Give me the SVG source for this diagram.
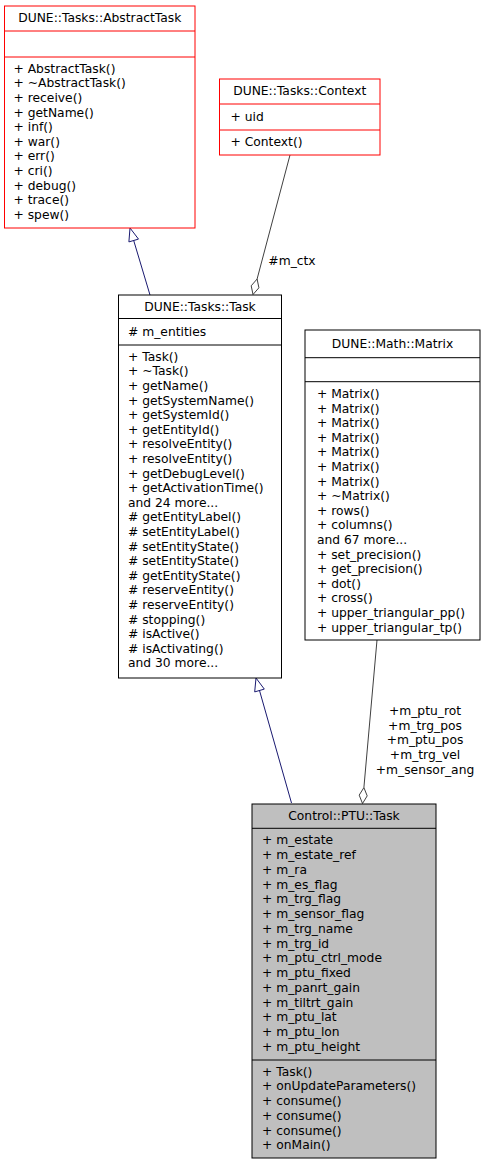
<svg xmlns="http://www.w3.org/2000/svg" width="485" height="1165" viewBox="0 0 485 1165">
<style>
text{font-family:"DejaVu Sans","Liberation Sans",sans-serif;font-size:12.3px;fill:#000}
.t{text-anchor:middle}
.box{fill:#fff;stroke:#000;stroke-width:1}
.red{fill:#fff;stroke:#ff0000;stroke-width:1}
.ptu{fill:#bfbfbf;stroke:#000;stroke-width:1}
.sepk{stroke:#000;stroke-width:1}
.sepr{stroke:#ff0000;stroke-width:1}
.inh{stroke:#191970;stroke-width:1;fill:none}
.inhh{stroke:#191970;stroke-width:1;fill:#fff}
.agg{stroke:#404040;stroke-width:1;fill:none}
.aggh{stroke:#404040;stroke-width:1;fill:#fff}
.lbl{text-anchor:middle}
</style>
<rect width="485" height="1165" fill="#fff"/>
<g id="connectors">
  <path class="inh" d="M150,295 L133.7,240.5"/>
  <polygon class="inhh" points="130,228 138.5,239.1 128.9,241.9"/>
  <path class="agg" d="M290,155 L257.1,279"/>
  <polygon class="aggh" points="253,294.5 258.9,287.8 257.1,279 251.2,285.8"/>
  <text class="lbl" x="292" y="265">#m_ctx</text>
  <path class="inh" d="M291.5,803 L259.5,690.5"/>
  <polygon class="inhh" points="256,678 264.3,689.1 254.7,691.9"/>
  <path class="agg" d="M377,640 L363.9,787.6"/>
  <polygon class="aggh" points="362.5,803.5 367.2,795.9 363.9,787.6 359.2,795.1"/>
  <text class="lbl" x="425" y="715">+m_ptu_rot</text>
  <text class="lbl" x="425" y="729.7">+m_trg_pos</text>
  <text class="lbl" x="425" y="744.4">+m_ptu_pos</text>
  <text class="lbl" x="425" y="759.1">+m_trg_vel</text>
  <text class="lbl" x="425" y="773.8">+m_sensor_ang</text>
</g>
<g id="AbstractTask">
  <rect class="red" x="4.5" y="6" width="190.5" height="222"/>
  <line class="sepr" x1="4.5" y1="31" x2="195" y2="31"/>
  <line class="sepr" x1="4.5" y1="57" x2="195" y2="57"/>
  <text class="t" x="99.75" y="22">DUNE::Tasks::AbstractTask</text>
  <text x="13.5" y="72.7">+ AbstractTask()</text>
  <text x="13.5" y="87.3">+ ~AbstractTask()</text>
  <text x="13.5" y="101.9">+ receive()</text>
  <text x="13.5" y="116.5">+ getName()</text>
  <text x="13.5" y="131.1">+ inf()</text>
  <text x="13.5" y="145.7">+ war()</text>
  <text x="13.5" y="160.3">+ err()</text>
  <text x="13.5" y="174.9">+ cri()</text>
  <text x="13.5" y="189.5">+ debug()</text>
  <text x="13.5" y="204.1">+ trace()</text>
  <text x="13.5" y="218.7">+ spew()</text>
</g>
<g id="Context">
  <rect class="red" x="219.5" y="79" width="160.5" height="76"/>
  <line class="sepr" x1="219.5" y1="104" x2="380" y2="104"/>
  <line class="sepr" x1="219.5" y1="130" x2="380" y2="130"/>
  <text class="t" x="299.75" y="95">DUNE::Tasks::Context</text>
  <text x="230.5" y="120.5">+ uid</text>
  <text x="230.5" y="146">+ Context()</text>
</g>
<g id="Task">
  <rect class="box" x="118.5" y="295" width="163" height="383"/>
  <line class="sepk" x1="118.5" y1="318.5" x2="281.5" y2="318.5"/>
  <line class="sepk" x1="118.5" y1="345" x2="281.5" y2="345"/>
  <text class="t" x="200" y="311">DUNE::Tasks::Task</text>
  <text x="128" y="335.5"># m_entities</text>
  <text x="128" y="360.7">+ Task()</text>
  <text x="128" y="375.3">+ ~Task()</text>
  <text x="128" y="389.9">+ getName()</text>
  <text x="128" y="404.5">+ getSystemName()</text>
  <text x="128" y="419.1">+ getSystemId()</text>
  <text x="128" y="433.7">+ getEntityId()</text>
  <text x="128" y="448.3">+ resolveEntity()</text>
  <text x="128" y="462.9">+ resolveEntity()</text>
  <text x="128" y="477.5">+ getDebugLevel()</text>
  <text x="128" y="492.1">+ getActivationTime()</text>
  <text x="128" y="506.7">and 24 more...</text>
  <text x="128" y="521.3"># getEntityLabel()</text>
  <text x="128" y="535.9"># setEntityLabel()</text>
  <text x="128" y="550.5"># setEntityState()</text>
  <text x="128" y="565.1"># setEntityState()</text>
  <text x="128" y="579.7"># getEntityState()</text>
  <text x="128" y="594.3"># reserveEntity()</text>
  <text x="128" y="608.9"># reserveEntity()</text>
  <text x="128" y="623.5"># stopping()</text>
  <text x="128" y="638.1"># isActive()</text>
  <text x="128" y="652.7"># isActivating()</text>
  <text x="128" y="667.3">and 30 more...</text>
</g>
<g id="Matrix">
  <rect class="box" x="305" y="330" width="175" height="310"/>
  <line class="sepk" x1="305" y1="357.7" x2="480" y2="357.7"/>
  <line class="sepk" x1="305" y1="381.7" x2="480" y2="381.7"/>
  <text class="t" x="392.5" y="348">DUNE::Math::Matrix</text>
  <text x="317" y="398">+ Matrix()</text>
  <text x="317" y="412.6">+ Matrix()</text>
  <text x="317" y="427.2">+ Matrix()</text>
  <text x="317" y="441.8">+ Matrix()</text>
  <text x="317" y="456.4">+ Matrix()</text>
  <text x="317" y="471">+ Matrix()</text>
  <text x="317" y="485.6">+ Matrix()</text>
  <text x="317" y="500.2">+ ~Matrix()</text>
  <text x="317" y="514.8">+ rows()</text>
  <text x="317" y="529.4">+ columns()</text>
  <text x="317" y="544">and 67 more...</text>
  <text x="317" y="558.6">+ set_precision()</text>
  <text x="317" y="573.2">+ get_precision()</text>
  <text x="317" y="587.8">+ dot()</text>
  <text x="317" y="602.4">+ cross()</text>
  <text x="317" y="617">+ upper_triangular_pp()</text>
  <text x="317" y="631.6">+ upper_triangular_tp()</text>
</g>
<g id="PTUTask">
  <rect class="ptu" x="252" y="804" width="184" height="354"/>
  <line class="sepk" x1="252" y1="828.3" x2="436" y2="828.3"/>
  <line class="sepk" x1="252" y1="1060" x2="436" y2="1060"/>
  <text class="t" x="344" y="820">Control::PTU::Task</text>
  <text x="262" y="844.3">+ m_estate</text>
  <text x="262" y="859">+ m_estate_ref</text>
  <text x="262" y="873.8">+ m_ra</text>
  <text x="262" y="888.5">+ m_es_flag</text>
  <text x="262" y="903.3">+ m_trg_flag</text>
  <text x="262" y="918">+ m_sensor_flag</text>
  <text x="262" y="932.8">+ m_trg_name</text>
  <text x="262" y="947.5">+ m_trg_id</text>
  <text x="262" y="962.3">+ m_ptu_ctrl_mode</text>
  <text x="262" y="977">+ m_ptu_fixed</text>
  <text x="262" y="991.8">+ m_panrt_gain</text>
  <text x="262" y="1006.5">+ m_tiltrt_gain</text>
  <text x="262" y="1021.3">+ m_ptu_lat</text>
  <text x="262" y="1036">+ m_ptu_lon</text>
  <text x="262" y="1050.8">+ m_ptu_height</text>
  <text x="262" y="1075.5">+ Task()</text>
  <text x="262" y="1090.3">+ onUpdateParameters()</text>
  <text x="262" y="1105">+ consume()</text>
  <text x="262" y="1119.8">+ consume()</text>
  <text x="262" y="1134.5">+ consume()</text>
  <text x="262" y="1149.3">+ onMain()</text>
</g>
</svg>
